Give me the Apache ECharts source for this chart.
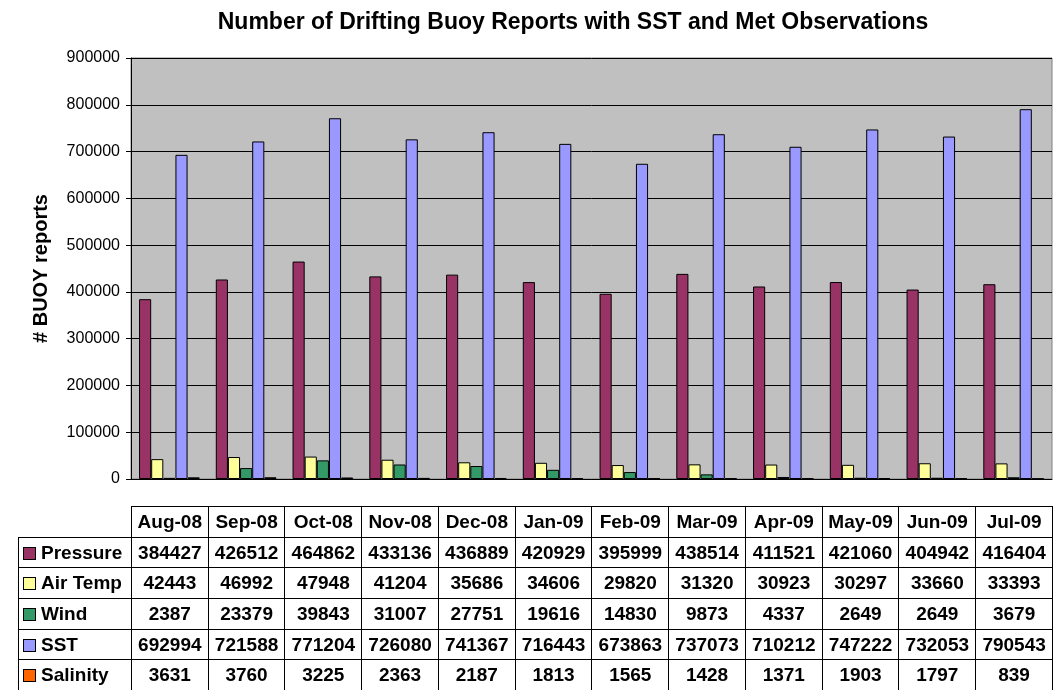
<!DOCTYPE html>
<html>
<head>
<meta charset="utf-8">
<script src="https://cdn.jsdelivr.net/npm/echarts@6/dist/echarts.min.js"></script>
<style>
    body { margin:0; background:#fff; font-family:"Liberation Sans", Arial, sans-serif; }
    #chart { position:absolute; left:0; top:0; width:1053px; height:690px; }
    #tbl { position:absolute; left:18px; top:506px; border-collapse:collapse; table-layout:fixed; }
    #tbl td { border:1px solid #000; height:29.7px; padding:0; text-align:center;
              font-weight:bold; font-size:19px; color:#000; white-space:nowrap; overflow:hidden; }
    #tbl td.lab { text-align:left; padding-left:4px; }
    #tbl td.blank { border-top:none; border-left:none; }
    .key { display:inline-block; width:11px; height:11px; border:1px solid #000; margin-right:5px; vertical-align:-1px; }
</style>
</head>
<body>
<div id="chart"></div>
<table id="tbl"></table>
<script>
var months = ['Aug-08','Sep-08','Oct-08','Nov-08','Dec-08','Jan-09','Feb-09','Mar-09','Apr-09','May-09','Jun-09','Jul-09'];
var pressure = [384427,426512,464862,433136,436889,420929,395999,438514,411521,421060,404942,416404];
var airTemp  = [42443,46992,47948,41204,35686,34606,29820,31320,30923,30297,33660,33393];
var wind     = [2387,23379,39843,31007,27751,19616,14830,9873,4337,2649,2649,3679];
var sst      = [692994,721588,771204,726080,741367,716443,673863,737073,710212,747222,732053,790543];
var salinity = [3631,3760,3225,2363,2187,1813,1565,1428,1371,1903,1797,839];

var seriesDefs = [
    { name:'Pressure', data:pressure, color:'#993366' },
    { name:'Air Temp', data:airTemp,  color:'#FFFF99' },
    { name:'Wind',     data:wind,     color:'#339966' },
    { name:'SST',      data:sst,      color:'#9999FF' },
    { name:'Salinity', data:salinity, color:'#FF6600' }
];

var chart = echarts.init(document.getElementById('chart'));
chart.setOption({
    animation:false,
    textStyle:{ fontFamily:'Liberation Sans' },
    title:{
        text:'Number of Drifting Buoy Reports with SST and Met Observations',
        left:568, top:6, textAlign:'center',
        textStyle:{ fontSize:23, fontWeight:'bold', color:'#000' }
    },
    grid:{ left:131, right:1, top:58, bottom:211, show:true, backgroundColor:'#C0C0C0', borderColor:'#808080', borderWidth:1 },
    xAxis:{
        type:'category', data:months,
        axisLabel:{ show:false }, axisTick:{ show:false },
        axisLine:{ lineStyle:{ color:'#000' } }
    },
    yAxis:{
        type:'value', min:0, max:900000, interval:100000,
        name:'# BUOY reports', nameLocation:'middle', nameRotate:90, nameGap:80,
        nameTextStyle:{ fontSize:20, fontWeight:'bold', color:'#000' },
        axisLine:{ show:true, lineStyle:{ color:'#000' } },
        axisTick:{ show:true, length:5, lineStyle:{ color:'#000' } },
        axisLabel:{ fontSize:16, color:'#000', margin:11, formatter:function(v){ return String(v); } },
        splitLine:{ lineStyle:{ color:'#000', width:1 } }
    },
    series:seriesDefs.map(function(s){
        return {
            name:s.name, type:'bar', data:s.data,
            barGap:'0%', barCategoryGap:'21%',
            itemStyle:{ color:s.color, borderColor:'#000', borderWidth:1 }
        };
    })
});

// data table under the plot, built from the same arrays
var colW = 922 / 12;
var html = '<colgroup><col style="width:113px">';
months.forEach(function(){ html += '<col style="width:' + colW + 'px">'; });
html += '</colgroup><tr><td class="blank"></td>';
months.forEach(function(m){ html += '<td>' + m + '</td>'; });
html += '</tr>';
seriesDefs.forEach(function(s){
    html += '<tr><td class="lab"><span class="key" style="background:' + s.color + '"></span>' + s.name + '</td>';
    s.data.forEach(function(v){ html += '<td>' + v + '</td>'; });
    html += '</tr>';
});
document.getElementById('tbl').innerHTML = html;
</script>
</body>
</html>
